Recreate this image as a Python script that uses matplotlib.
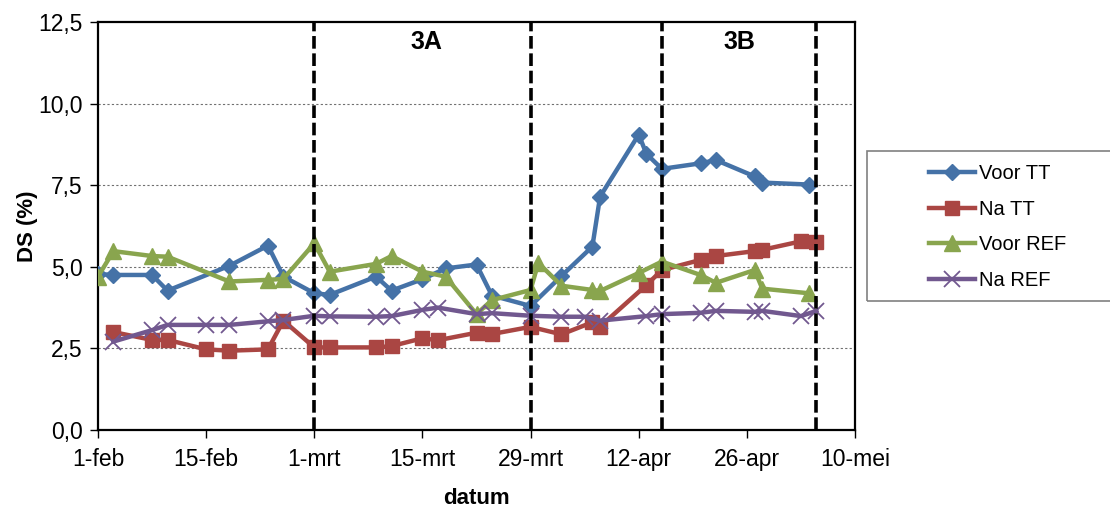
import numpy as np
import pandas as pd
import matplotlib
matplotlib.use("Agg")
from matplotlib import pyplot as plt
from matplotlib.patches import Rectangle
from matplotlib.ticker import FuncFormatter

plt.rcParams['font.family'] = ['Liberation Sans', 'DejaVu Sans']

# measuring days (days after 1 feb) and DS values per series
voorTT_days = [0, 2, 7, 9, 17, 22, 24, 28, 30, 36, 38, 42, 45, 49, 51, 56, 60, 64, 65, 70, 71, 73, 78, 80, 85, 86, 92]
voorTT_ds = [4.78, 4.75, 4.75, 4.27, 5.03, 5.65, 4.70, 4.19, 4.14, 4.70, 4.27, 4.62, 4.95, 5.07, 4.12, 3.80,
             4.72, 5.62, 7.15, 9.05, 8.46, 8.00, 8.17, 8.27, 7.77, 7.58, 7.52]

naTT_days = [2, 7, 9, 14, 17, 22, 24, 28, 30, 36, 38, 42, 44, 49, 51, 56, 60, 64, 65, 71, 73, 78, 80, 85, 86, 91, 93]
naTT_ds = [3.00, 2.76, 2.76, 2.47, 2.43, 2.47, 3.35, 2.53, 2.53, 2.53, 2.57, 2.81, 2.75, 2.98, 2.94, 3.16,
           2.93, 3.30, 3.17, 4.44, 4.90, 5.21, 5.33, 5.48, 5.52, 5.78, 5.75]

voorREF_days = [0, 2, 7, 9, 17, 22, 24, 28, 30, 36, 38, 42, 45, 49, 51, 56, 57, 60, 64, 65, 70, 73, 78, 80, 85, 86, 92]
voorREF_ds = [4.70, 5.48, 5.33, 5.31, 4.55, 4.60, 4.63, 5.72, 4.85, 5.09, 5.33, 4.85, 4.70, 3.55, 3.98, 4.29,
              5.12, 4.42, 4.29, 4.26, 4.81, 5.16, 4.75, 4.51, 4.90, 4.33, 4.19]

naREF_days = [2, 7, 9, 14, 17, 22, 24, 28, 30, 36, 38, 42, 44, 49, 51, 56, 60, 63, 65, 71, 73, 78, 80, 85, 86, 91, 93]
naREF_ds = [2.71, 3.06, 3.22, 3.22, 3.22, 3.33, 3.37, 3.50, 3.48, 3.47, 3.49, 3.68, 3.75, 3.55, 3.58, 3.50,
            3.47, 3.47, 3.35, 3.49, 3.55, 3.59, 3.65, 3.62, 3.65, 3.49, 3.65]

period_lines = [28, 56, 73, 93]          # dashed separators (days after 1 feb)
period_labels = [("3A", 42.5), ("3B", 83)]

START = pd.Timestamp("2009-02-01")
MONTHS_NL = {2: "feb", 3: "mrt", 4: "apr", 5: "mei"}


def toDates(days):
    return [START + pd.Timedelta(days=d) for d in days]


fig = plt.figure(figsize=(11.10, 5.09), dpi=100)
ax = fig.add_axes([98 / 1110, 1 - 430 / 509, (855 - 98) / 1110, (430 - 22) / 509])

series = [
    ("Voor TT", voorTT_days, voorTT_ds, "#4572A7", "D", 8.5),
    ("Na TT", naTT_days, naTT_ds, "#AA4643", "s", 9.5),
    ("Voor REF", voorREF_days, voorREF_ds, "#89A54E", "^", 12),
    ("Na REF", naREF_days, naREF_ds, "#71588F", "x", 11),
]
for name, days, vals, col, mk, ms in series:
    if mk == "x":
        ax.plot(toDates(days), vals, color=col, lw=3.2, marker=mk, ms=ms, mew=1.3, label=name, zorder=3)
    else:
        ax.plot(toDates(days), vals, color=col, lw=3.2, marker=mk, ms=ms, mec=col, label=name, zorder=3)

for d in period_lines:
    ax.axvline(START + pd.Timedelta(days=d), color="black", lw=2.6, ls=(0, (3.5, 1.3)), zorder=4)

for txt, d in period_labels:
    ax.text(START + pd.Timedelta(days=d), 11.9, txt, ha="center", va="center",
            fontsize=18, fontweight="bold")

ax.set_ylim(0, 12.5)
ax.set_yticks(np.arange(0, 12.6, 2.5))
ax.yaxis.set_major_formatter(FuncFormatter(lambda v, p: ("%.1f" % v).replace(".", ",")))
ax.set_xlim(START, START + pd.Timedelta(days=98))
xticks = [START + pd.Timedelta(days=14 * i) for i in range(8)]
ax.set_xticks(xticks)
ax.set_xticklabels(["%d-%s" % (t.day, MONTHS_NL[t.month]) for t in xticks])

for y in [2.5, 5.0, 7.5, 10.0]:
    ax.axhline(y, color="#707070", lw=0.8, ls=(0, (2, 2)), zorder=1)

for s in ax.spines.values():
    s.set_linewidth(1.6)
    s.set_color("black")
ax.tick_params(axis="both", labelsize=16.5, direction="out", length=6, width=1)
ax.tick_params(axis="x", pad=7)
ax.tick_params(axis="y", pad=5)

ax.set_xlabel("datum", fontsize=16, fontweight="bold", labelpad=12)
ax.set_ylabel("DS (%)", fontsize=16, fontweight="bold", labelpad=0)

# legend box
fig.patches.append(Rectangle((867 / 1110, 1 - 301 / 509), 260 / 1110, 150 / 509,
                             transform=fig.transFigure, fill=False, edgecolor="#808080", lw=1.2))
fig.legend(loc="upper left", bbox_to_anchor=(915 / 1110, 1 - 150 / 509), frameon=False,
           fontsize=14.5, handlelength=2.3, labelspacing=0.82, handletextpad=0.2, borderpad=0.2)

plt.savefig("out.png", dpi=100)
